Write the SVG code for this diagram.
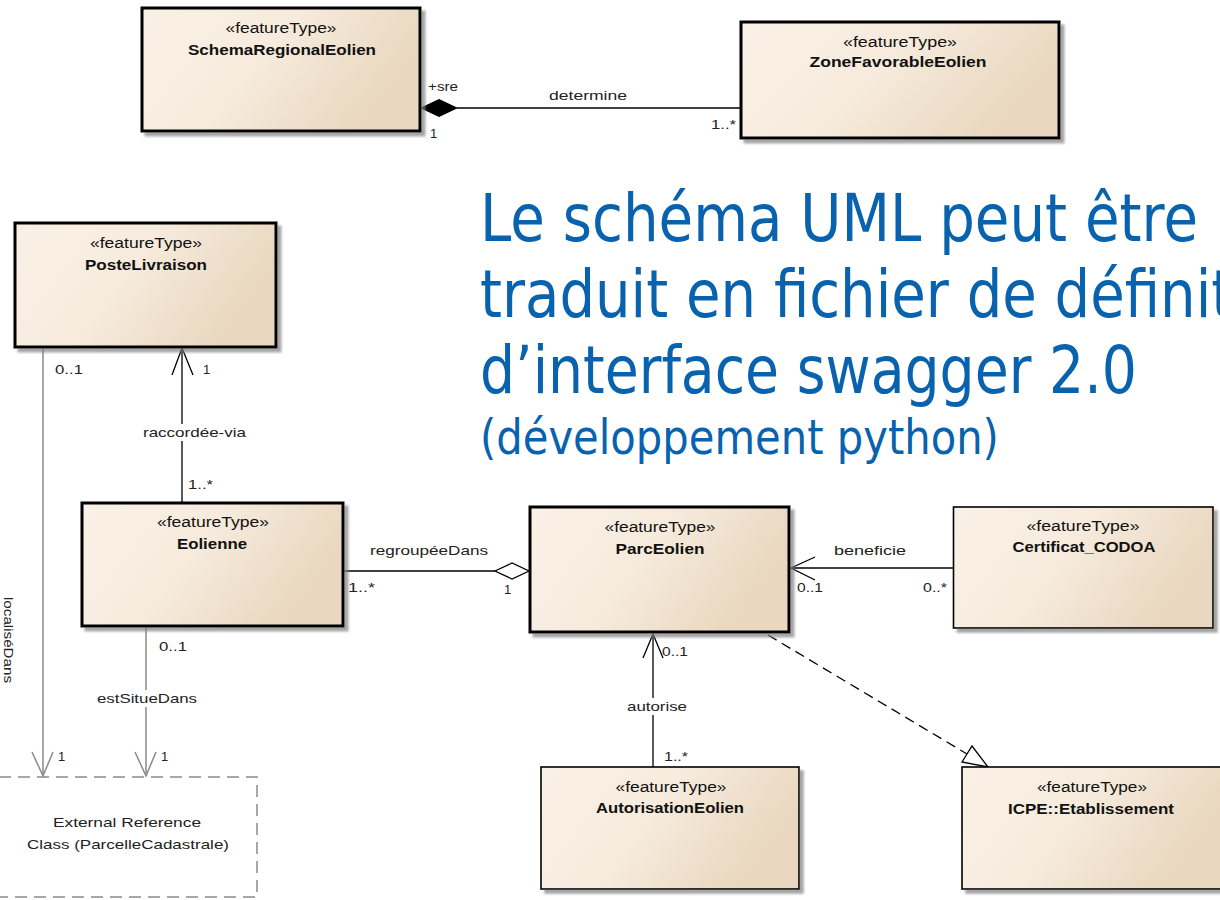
<svg xmlns="http://www.w3.org/2000/svg" width="1220" height="900" viewBox="0 0 1220 900">
<defs>
<linearGradient id="fill" x1="0" y1="0" x2="1" y2="0.35">
<stop offset="0" stop-color="#FAF1E6"/>
<stop offset="0.5" stop-color="#F6EBDD"/>
<stop offset="1" stop-color="#E9D7BF"/>
</linearGradient>
<filter id="sh" x="-10%" y="-10%" width="130%" height="130%">
<feDropShadow dx="4" dy="4" stdDeviation="1.2" flood-color="#808080" flood-opacity="0.7"/>
</filter>
</defs>
<style>
.box{fill:url(#fill);stroke:#000;filter:url(#sh)}
.thick{stroke-width:3}
.thin{stroke-width:1.6}
.st{font-family:"Liberation Sans",Arial,sans-serif;font-size:14px;fill:#111;text-anchor:middle}
.nm{font-family:"Liberation Sans",Arial,sans-serif;font-size:14px;font-weight:bold;fill:#111;text-anchor:middle}
.lb{font-family:"Liberation Sans",Arial,sans-serif;font-size:13px;fill:#222}
.ln{stroke:#000;stroke-width:1.3;fill:none}
.gl{stroke:#8a8a8a;stroke-width:1.5;fill:none}
.title{font-family:"DejaVu Sans",Verdana,sans-serif;fill:#0862AE}
</style>

<g id="title">
<text class="title" transform="translate(480,241) scale(0.852,1)" x="0" y="0" font-size="66">Le schéma UML peut être</text>
<text class="title" transform="translate(480,317) scale(0.85,1)" x="0" y="0" font-size="66">traduit en fichier de définit</text>
<text class="title" transform="translate(480,393) scale(0.8375,1)" x="0" y="0" font-size="66">d’interface swagger 2.0</text>
<text class="title" transform="translate(480,454) scale(0.869,1)" x="0" y="0" font-size="48">(développement python)</text>
</g>

<g id="connectors">
<!-- determine -->
<line class="ln" x1="457" y1="108" x2="741" y2="108"/>
<polygon points="421,108 439,99.5 457,108 439,116.5" fill="#000" stroke="#000" stroke-width="1"/>
<!-- raccordée-via -->
<line class="ln" x1="182" y1="503" x2="182" y2="348"/>
<polyline class="ln" points="172,375 182,348 193,375"/>
<!-- regroupéeDans -->
<line class="ln" x1="343" y1="571" x2="495" y2="571"/>
<polygon points="495,571 512,563 529,571 512,579" fill="#fff" stroke="#000" stroke-width="1.3"/>
<!-- beneficie -->
<line class="ln" x1="791" y1="568" x2="953" y2="568"/>
<polyline class="ln" points="815,557 791,568 815,580"/>
<!-- autorise -->
<line class="ln" x1="653" y1="767" x2="653" y2="634"/>
<polyline class="ln" points="643,658 653,634 663,658"/>
<!-- realization -->
<line class="ln" x1="768" y1="635" x2="967" y2="754" stroke-dasharray="10,6"/>
<polygon points="962,762 972,746 988,767" fill="#fff" stroke="#000" stroke-width="1.3"/>
<!-- localiséDans -->
<line class="gl" x1="43" y1="348" x2="43" y2="776"/>
<polyline class="gl" points="32,752 43,776 53,752"/>
<!-- estSitueDans -->
<line class="gl" x1="146" y1="627" x2="146" y2="776"/>
<polyline class="gl" points="135,752 146,776 156,752"/>

<!-- labels -->
<text class="lb" x="428" y="91" textLength="30" lengthAdjust="spacingAndGlyphs">+sre</text>
<text class="lb" x="430" y="138">1</text>
<text class="lb" x="549" y="100" textLength="78" lengthAdjust="spacingAndGlyphs">determine</text>
<text class="lb" x="711" y="129" textLength="25" lengthAdjust="spacingAndGlyphs">1..*</text>

<text class="lb" x="55" y="374" textLength="28" lengthAdjust="spacingAndGlyphs">0..1</text>
<text class="lb" x="203" y="374">1</text>
<rect x="140" y="424" width="108" height="17" fill="#fff"/>
<text class="lb" x="143" y="437" textLength="103" lengthAdjust="spacingAndGlyphs">raccordée-via</text>
<text class="lb" x="188" y="489" textLength="25" lengthAdjust="spacingAndGlyphs">1..*</text>

<text class="lb" x="370" y="555" textLength="118" lengthAdjust="spacingAndGlyphs">regroupéeDans</text>
<text class="lb" x="348" y="592" textLength="27" lengthAdjust="spacingAndGlyphs">1..*</text>
<text class="lb" x="504" y="594">1</text>

<text class="lb" x="834" y="555" textLength="72" lengthAdjust="spacingAndGlyphs">beneficie</text>
<text class="lb" x="797" y="592" textLength="26" lengthAdjust="spacingAndGlyphs">0..1</text>
<text class="lb" x="923" y="592" textLength="24" lengthAdjust="spacingAndGlyphs">0..*</text>

<text class="lb" x="159" y="651" textLength="28" lengthAdjust="spacingAndGlyphs">0..1</text>
<rect x="94" y="690" width="106" height="17" fill="#fff"/>
<text class="lb" x="97" y="703" textLength="100" lengthAdjust="spacingAndGlyphs">estSitueDans</text>
<text class="lb" x="58" y="761">1</text>
<text class="lb" x="161" y="761">1</text>
<text class="lb" transform="translate(4,640) rotate(90)" x="0" y="0" text-anchor="middle" textLength="86" lengthAdjust="spacingAndGlyphs">localiséDans</text>

<text class="lb" x="662" y="656" textLength="26" lengthAdjust="spacingAndGlyphs">0..1</text>
<rect x="624" y="698" width="66" height="17" fill="#fff"/>
<text class="lb" x="627" y="711" textLength="60" lengthAdjust="spacingAndGlyphs">autorise</text>
<text class="lb" x="664" y="761" textLength="24" lengthAdjust="spacingAndGlyphs">1..*</text>
</g>

<g id="SchemaRegionalEolien">
<rect class="box thick" x="142" y="8" width="278" height="123"/>
<text class="st" x="281" y="33" textLength="111" lengthAdjust="spacingAndGlyphs">«featureType»</text>
<text class="nm" x="282" y="55" textLength="188" lengthAdjust="spacingAndGlyphs">SchemaRegionalEolien</text>
</g>

<g id="ZoneFavorableEolien">
<rect class="box thick" x="741" y="22" width="318" height="116"/>
<text class="st" x="900" y="47" textLength="114" lengthAdjust="spacingAndGlyphs">«featureType»</text>
<text class="nm" x="898" y="67" textLength="177" lengthAdjust="spacingAndGlyphs">ZoneFavorableEolien</text>
</g>

<g id="PosteLivraison">
<rect class="box thick" x="15" y="223" width="261" height="124"/>
<text class="st" x="146" y="248" textLength="112" lengthAdjust="spacingAndGlyphs">«featureType»</text>
<text class="nm" x="146" y="270" textLength="122" lengthAdjust="spacingAndGlyphs">PosteLivraison</text>
</g>

<g id="Eolienne">
<rect class="box thick" x="82" y="503" width="261" height="123"/>
<text class="st" x="213" y="527" textLength="112" lengthAdjust="spacingAndGlyphs">«featureType»</text>
<text class="nm" x="212" y="549" textLength="70" lengthAdjust="spacingAndGlyphs">Eolienne</text>
</g>

<g id="ParcEolien">
<rect class="box thick" x="530" y="507" width="259" height="125"/>
<text class="st" x="660" y="532" textLength="111" lengthAdjust="spacingAndGlyphs">«featureType»</text>
<text class="nm" x="660" y="554" textLength="89" lengthAdjust="spacingAndGlyphs">ParcEolien</text>
</g>

<g id="Certificat_CODOA">
<rect class="box thin" x="953.5" y="507" width="259.5" height="121"/>
<text class="st" x="1083" y="531" textLength="113" lengthAdjust="spacingAndGlyphs">«featureType»</text>
<text class="nm" x="1084" y="552" textLength="143" lengthAdjust="spacingAndGlyphs">Certificat_CODOA</text>
</g>

<g id="AutorisationEolien">
<rect class="box thin" x="541" y="767" width="258" height="122"/>
<text class="st" x="671" y="792" textLength="111" lengthAdjust="spacingAndGlyphs">«featureType»</text>
<text class="nm" x="670" y="813" textLength="148" lengthAdjust="spacingAndGlyphs">AutorisationEolien</text>
</g>

<g id="ICPE_Etablissement">
<rect class="box thin" x="962" y="767" width="260" height="122"/>
<text class="st" x="1092" y="792" textLength="110" lengthAdjust="spacingAndGlyphs">«featureType»</text>
<text class="nm" x="1091" y="814" textLength="166" lengthAdjust="spacingAndGlyphs">ICPE::Etablissement</text>
</g>

<g id="ExternalReference">
<rect x="-20" y="777" width="277" height="120" fill="none" stroke="#8a8a8a" stroke-width="1.5" stroke-dasharray="12,7"/>
<text class="lb" x="127" y="827" text-anchor="middle" font-size="14" textLength="148" lengthAdjust="spacingAndGlyphs">External Reference</text>
<text class="lb" x="128" y="849" text-anchor="middle" font-size="14" textLength="202" lengthAdjust="spacingAndGlyphs">Class (ParcelleCadastrale)</text>
</g>
</svg>
